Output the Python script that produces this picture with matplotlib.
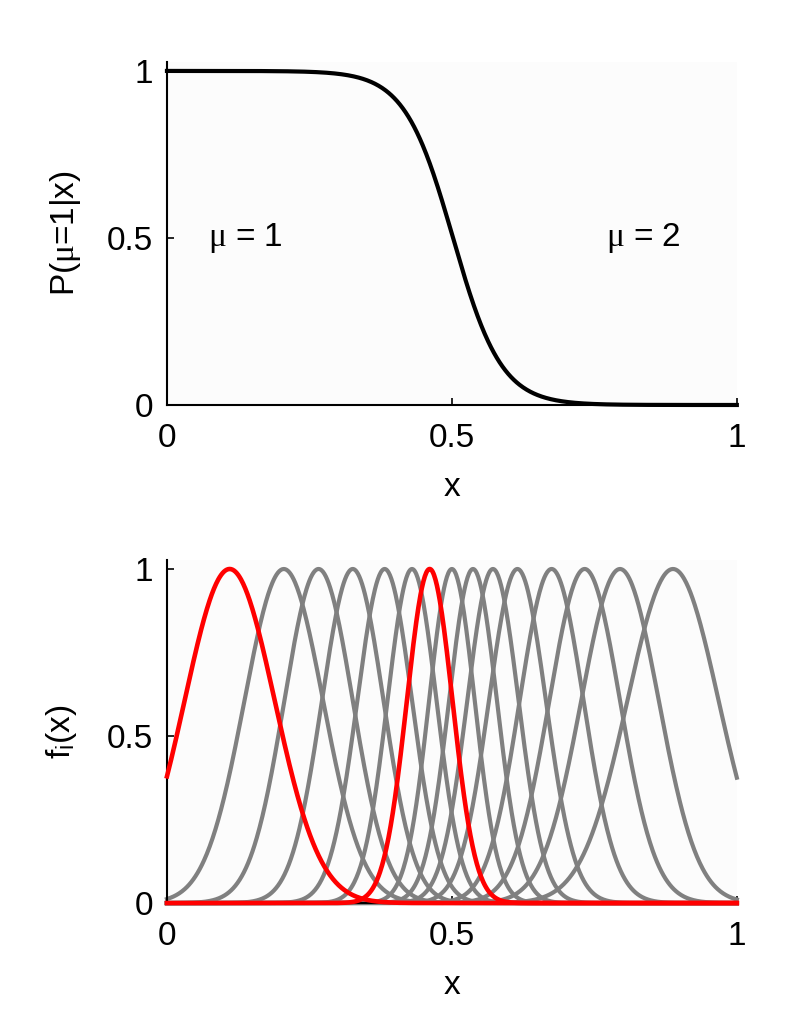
import numpy as np
import matplotlib
matplotlib.use("Agg")
import matplotlib.pyplot as plt

plt.rcParams['font.family'] = ['Liberation Sans', 'DejaVu Sans']
plt.rcParams['mathtext.fontset'] = 'custom'
plt.rcParams['mathtext.rm'] = 'Liberation Sans'
plt.rcParams['mathtext.it'] = 'Liberation Serif'

# top panel: posterior P(mu=1|x), logistic
post_center = 0.502
post_slope = 23.5

# bottom panel: tuning curve centres and widths
centers = [0.110, 0.205, 0.266, 0.326, 0.382, 0.430, 0.461, 0.500,
           0.537, 0.572, 0.615, 0.675, 0.733, 0.795, 0.888]
widths = [0.079, 0.069, 0.060, 0.054, 0.048, 0.043, 0.040, 0.040,
          0.042, 0.045, 0.050, 0.056, 0.062, 0.068, 0.080]
highlight = [0, 6]  # indices drawn in red

x = np.linspace(0, 1, 801)
fs = 24

fig = plt.figure(figsize=(7.97, 10.15), dpi=100)
ax1 = fig.add_axes([0.2095, 0.601, 0.715, 0.338])
ax2 = fig.add_axes([0.2095, 0.1103, 0.715, 0.338])

for ax in (ax1, ax2):
    ax.set_facecolor('#fcfcfc')
    ax.spines['top'].set_visible(False)
    ax.spines['right'].set_visible(False)
    ax.spines['left'].set_linewidth(1.5)
    ax.spines['bottom'].set_linewidth(1.5)
    ax.set_xlim(0, 1)
    ax.set_ylim(0, 1.027)
    ax.set_xticks([0, 0.5, 1])
    ax.set_xticklabels(['0', '0.5', '1'])
    ax.set_yticks([0, 0.5, 1])
    ax.set_yticklabels(['0', '0.5', '1'])
    ax.tick_params(direction='in', length=5, width=1.2, labelsize=fs)
    ax.tick_params(axis='y', pad=10)
    ax.tick_params(axis='x', pad=13)
    ax.set_xlabel('x', fontsize=fs, labelpad=13)

# top
p = 1.0 / (1.0 + np.exp(post_slope * (x - post_center)))
ax1.plot(x, p, color='black', lw=3.0, clip_on=False)
ax1.set_ylabel(r'P($\mu$=1|x)', fontsize=fs, labelpad=17)
ax1.text(0.072, 0.5, r'$\mu$ = 1', fontsize=fs, va='center', ha='left')
ax1.text(0.77, 0.5, r'$\mu$ = 2', fontsize=fs, va='center', ha='left')

# bottom
for i, (c, s) in enumerate(zip(centers, widths)):
    if i in highlight:
        continue
    ax2.plot(x, np.exp(-(x - c) ** 2 / (2 * s ** 2)), color='#808080', lw=3.0,
             clip_on=False)
for i in highlight:
    c, s = centers[i], widths[i]
    ax2.plot(x, np.exp(-(x - c) ** 2 / (2 * s ** 2)), color='red', lw=3.3,
             clip_on=False, zorder=3)
ax2.set_ylabel(r'f$_\mathregular{i}$(x)', fontsize=fs, labelpad=20)

fig.savefig('out.png', dpi=100)
